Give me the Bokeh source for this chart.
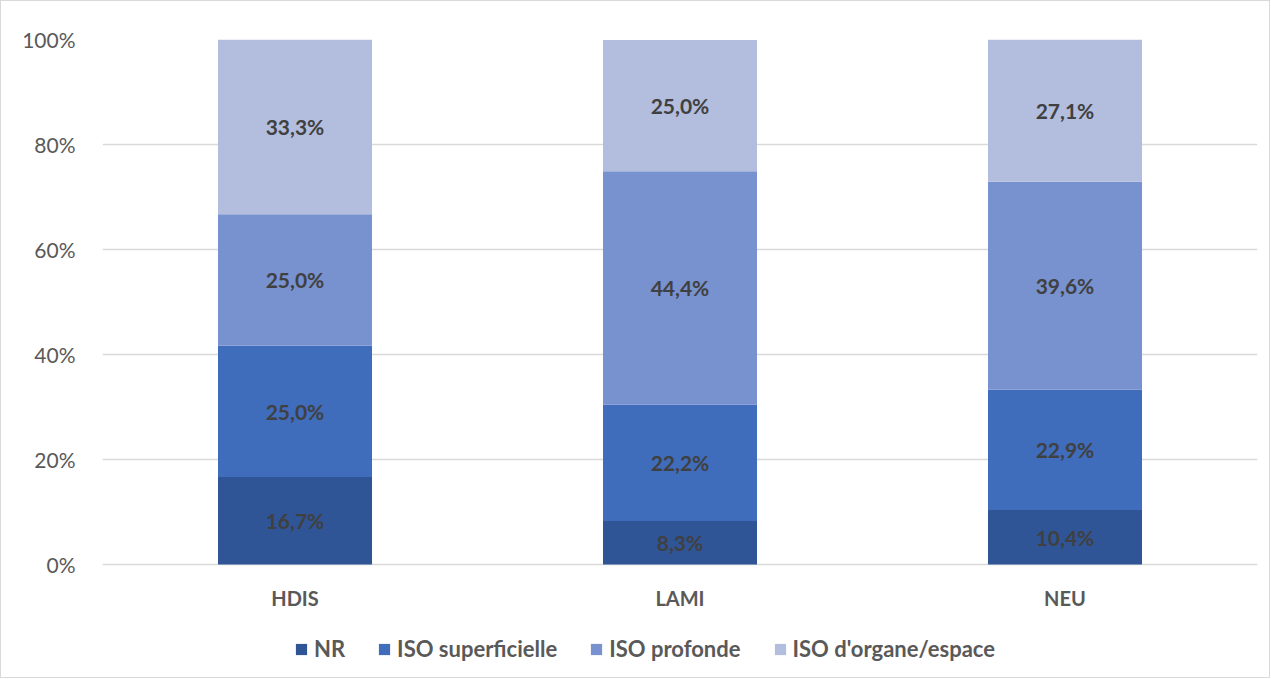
from bokeh.plotting import figure
from bokeh.models import ColumnDataSource, FactorRange, Range1d, PrintfTickFormatter, Legend, LegendItem, FixedTicker
from bokeh.core.properties import value
from bokeh.embed import file_html
from bokeh.resources import INLINE

categories = ["HDIS", "LAMI", "NEU"]
series = ["NR", "ISO superficielle", "ISO profonde", "ISO d'organe/espace"]
nr = [16.7, 8.3, 10.4]
iso_sup = [25.0, 22.2, 22.9]
iso_prof = [25.0, 44.4, 39.6]
iso_org = [33.3, 25.0, 27.1]
colors = ["#2F5597", "#3F6CBB", "#7891CF", "#B3BEDF"]
y_ticks = [0, 20, 40, 60, 80, 100]

FONT = "Lato"
data = {"cat": categories, "NR": nr, "ISO superficielle": iso_sup,
        "ISO profonde": iso_prof, "ISO d'organe/espace": iso_org}
src = ColumnDataSource(data)

# frame extends below 0 so that category labels and legend live inside it
PX_PER_UNIT = 5.25
Y_BOTTOM = -21.5
p = figure(x_range=FactorRange(*categories, range_padding=0), y_range=Range1d(Y_BOTTOM, 100),
           frame_width=1155, frame_height=int(round((100 - Y_BOTTOM) * PX_PER_UNIT)),
           x_axis_location=None,
           output_backend="svg", toolbar_location=None,
           min_border_left=101, min_border_top=38, min_border_right=12, min_border_bottom=0)
p.styles = {"border": "1px solid #D9D9D9"}
p.outline_line_color = None

renderers = p.vbar_stack(series, x="cat", width=0.4, color=colors, line_color=None, source=src)

# data labels
lx, ly, lt = [], [], []
cols = [nr, iso_sup, iso_prof, iso_org]
for j, c in enumerate(categories):
    bottom = 0.0
    for vals in cols:
        v = vals[j]
        lx.append(c)
        ly.append(bottom + v / 2)
        lt.append(f"{v:.1f}".replace(".", ",") + "%")
        bottom += v
p.text(x="cat", y="y", text="t", source=ColumnDataSource(dict(cat=lx, y=ly, t=lt)),
       text_align="center", text_baseline="middle", text_font=value(FONT),
       text_font_style="bold", text_font_size="21px", text_color="#404040")

# category labels (x axis)
p.text(x=categories, y=[-33 / PX_PER_UNIT] * len(categories), text=categories,
       text_align="center", text_baseline="middle", text_font=value(FONT),
       text_font_style="bold", text_font_size="20px", text_color="#595959")

p.yaxis.ticker = FixedTicker(ticks=y_ticks)
p.yaxis.formatter = PrintfTickFormatter(format="%d%%")
p.yaxis.axis_line_color = None
p.yaxis.major_tick_line_color = None
p.yaxis.minor_tick_line_color = None
p.yaxis.major_label_text_font = FONT
p.yaxis.major_label_text_font_size = "21px"
p.yaxis.major_label_text_color = "#595959"
p.yaxis.major_label_standoff = 21

p.xgrid.grid_line_color = None
p.ygrid.ticker = FixedTicker(ticks=y_ticks)
p.ygrid.grid_line_color = "#D9D9D9"
p.ygrid.grid_line_width = 1.5

legend = Legend(items=[LegendItem(label=s, renderers=[r]) for s, r in zip(series, renderers)],
                orientation="horizontal", location=(192, 15))
legend.label_text_font = FONT
legend.label_text_font_style = "bold"
legend.label_text_font_size = "22px"
legend.label_text_color = "#595959"
legend.glyph_width = 14
legend.glyph_height = 14
legend.label_standoff = 6
legend.spacing = 32
legend.border_line_color = None
legend.background_fill_alpha = 0
legend.padding = 4
legend.margin = 0
p.add_layout(legend, "center")

open("out.html", "w").write(file_html(p, INLINE))
